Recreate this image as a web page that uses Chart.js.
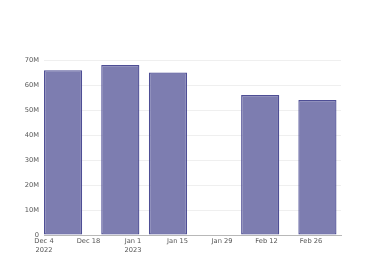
<!DOCTYPE html>
<html>
<head>
<meta charset="utf-8">
<script src="https://cdn.jsdelivr.net/npm/chart.js@4"></script>
<style>
html,body{margin:0;padding:0;background:#fff;}
#wrap{width:380px;height:280px;position:relative;}
</style>
</head>
<body>
<div id="wrap"><canvas id="c" width="380" height="280"></canvas></div>
<script>
// Data
const dates = ["2022-12-10", "2022-12-28", "2023-01-12", "2023-02-10", "2023-02-28"];
const values = [66.2e6, 68.3e6, 65.3e6, 56.2e6, 54.2e6];
const tickDates = ["2022-12-04", "2022-12-18", "2023-01-01", "2023-01-15", "2023-01-29", "2023-02-12", "2023-02-26"];
const tickLabels = [["Dec 4", "2022"], "Dec 18", ["Jan 1", "2023"], "Jan 15", "Jan 29", "Feb 12", "Feb 26"];
const yTicks = [0, 10e6, 20e6, 30e6, 40e6, 50e6, 60e6, 70e6];
const yTickLabels = ["0", "10M", "20M", "30M", "40M", "50M", "60M", "70M"];
const xRange = ["2022-12-04", "2023-03-07T10:00:00"];
const yMax = 71.9e6;

const DAY = 86400000;
const t0 = Date.parse(xRange[0] + "T00:00:00Z");
const toDay = s => (Date.parse(s.length > 10 ? s + "Z" : s + "T00:00:00Z") - t0) / DAY;

const points = dates.map((d, i) => ({x: toDay(d), y: values[i]}));
const tickDays = tickDates.map(toDay);

const font = {family: "'DejaVu Sans', sans-serif", size: 6.7, lineHeight: 1.35};

new Chart(document.getElementById('c'), {
  type: 'bar',
  data: {
    datasets: [{
      data: points,
      backgroundColor: '#7d7db0',
      borderColor: '#4e4e95',
      borderWidth: 1.3,
      borderSkipped: false,
      categoryPercentage: 1,
      barPercentage: 0.8 * 15 / 14
    }]
  },
  options: {
    responsive: false,
    animation: false,
    devicePixelRatio: 1,
    layout: {padding: {top: 56, right: 39, bottom: 25, left: 0}},
    plugins: {legend: {display: false}, tooltip: {enabled: false}},
    scales: {
      x: {
        type: 'linear',
        offset: false,
        min: toDay(xRange[0]),
        max: toDay(xRange[1]),
        grid: {display: false, offset: false, drawTicks: false},
        border: {display: true, color: '#b8b8b8', width: 1},
        afterBuildTicks: s => { s.ticks = tickDays.map(v => ({value: v})); },
        afterFit: s => { s.height = 20; },
        ticks: {
          autoSkip: false, maxRotation: 0, minRotation: 0, padding: 2,
          color: '#555', font: font,
          callback: (v, i) => tickLabels[i]
        }
      },
      y: {
        type: 'linear',
        min: 0,
        max: yMax,
        grid: {color: '#efefef', lineWidth: 1, drawTicks: false},
        border: {display: false},
        afterBuildTicks: s => { s.ticks = yTicks.map(v => ({value: v})); },
        afterFit: s => { s.width = 44; },
        ticks: {
          autoSkip: false, padding: 5, color: '#555', font: font,
          callback: (v, i) => yTickLabels[i]
        }
      }
    }
  }
});
</script>
</body>
</html>
